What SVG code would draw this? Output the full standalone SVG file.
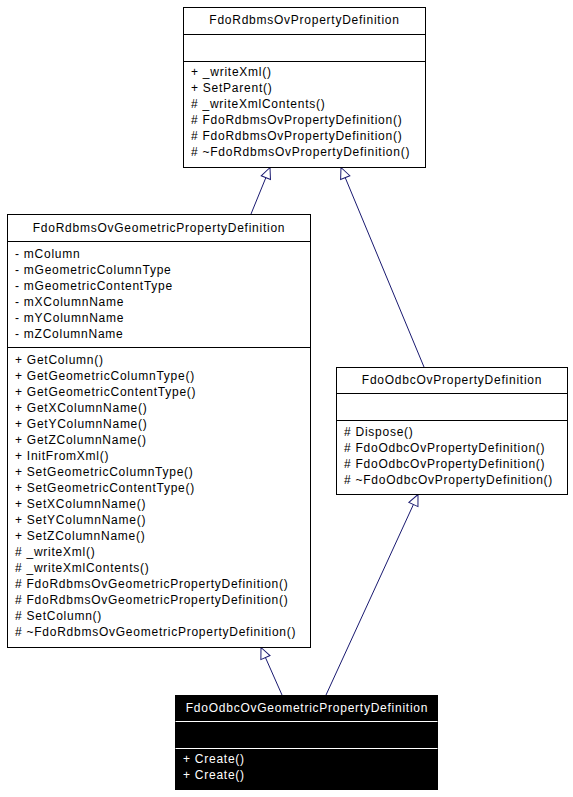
<svg xmlns="http://www.w3.org/2000/svg" width="573" height="797" viewBox="0 0 573 797">
<style>
text{font-family:"Liberation Sans",Arial,sans-serif;font-size:12px;letter-spacing:0.75px;fill:#000}
.t{text-anchor:middle}
.box{fill:#fff;stroke:#000;stroke-width:1}
.sep{stroke:#000;stroke-width:1}
.hl .box{fill:#000}
.hl text{fill:#fff}
.hl .sep{stroke:#fff}
.edge{stroke:#191970;stroke-width:1;fill:none;marker-end:url(#inh)}
</style>
<defs>
<marker id="inh" markerUnits="userSpaceOnUse" markerWidth="14" markerHeight="14" viewBox="-12 -7 14 14" refX="0" refY="0" orient="auto">
<path d="M0,0 L-11,-5 L-11,5 Z" fill="#fff" stroke="#191970" stroke-width="1"/>
</marker>
</defs>
<g id="connectors">
<line class="edge" x1="251" y1="214" x2="270" y2="167.5"/>
<line class="edge" x1="424" y1="367" x2="341" y2="167.5"/>
<line class="edge" x1="282" y1="695" x2="261" y2="647.5"/>
<line class="edge" x1="326" y1="695" x2="418" y2="494.5"/>
</g>
<g id="FdoRdbmsOvPropertyDefinition">
<rect class="box" x="183.5" y="7.5" width="242" height="160"/>
<line class="sep" x1="183.5" y1="34.5" x2="425.5" y2="34.5"/>
<line class="sep" x1="183.5" y1="61.5" x2="425.5" y2="61.5"/>
<text class="t" x="304.5" y="24">FdoRdbmsOvPropertyDefinition</text>
<text x="191" y="76">+ _writeXml()</text>
<text x="191" y="92">+ SetParent()</text>
<text x="191" y="108"># _writeXmlContents()</text>
<text x="191" y="124"># FdoRdbmsOvPropertyDefinition()</text>
<text x="191" y="140"># FdoRdbmsOvPropertyDefinition()</text>
<text x="191" y="156"># ~FdoRdbmsOvPropertyDefinition()</text>
</g>
<g id="FdoRdbmsOvGeometricPropertyDefinition">
<rect class="box" x="7.5" y="214.5" width="303" height="433"/>
<line class="sep" x1="7.5" y1="241.5" x2="310.5" y2="241.5"/>
<line class="sep" x1="7.5" y1="347.5" x2="310.5" y2="347.5"/>
<text class="t" x="159" y="232">FdoRdbmsOvGeometricPropertyDefinition</text>
<text x="15" y="258">- mColumn</text>
<text x="15" y="274">- mGeometricColumnType</text>
<text x="15" y="290">- mGeometricContentType</text>
<text x="15" y="306">- mXColumnName</text>
<text x="15" y="322">- mYColumnName</text>
<text x="15" y="338">- mZColumnName</text>
<text x="15" y="364">+ GetColumn()</text>
<text x="15" y="380">+ GetGeometricColumnType()</text>
<text x="15" y="396">+ GetGeometricContentType()</text>
<text x="15" y="412">+ GetXColumnName()</text>
<text x="15" y="428">+ GetYColumnName()</text>
<text x="15" y="444">+ GetZColumnName()</text>
<text x="15" y="460">+ InitFromXml()</text>
<text x="15" y="476">+ SetGeometricColumnType()</text>
<text x="15" y="492">+ SetGeometricContentType()</text>
<text x="15" y="508">+ SetXColumnName()</text>
<text x="15" y="524">+ SetYColumnName()</text>
<text x="15" y="540">+ SetZColumnName()</text>
<text x="15" y="556"># _writeXml()</text>
<text x="15" y="572"># _writeXmlContents()</text>
<text x="15" y="588"># FdoRdbmsOvGeometricPropertyDefinition()</text>
<text x="15" y="604"># FdoRdbmsOvGeometricPropertyDefinition()</text>
<text x="15" y="620"># SetColumn()</text>
<text x="15" y="636"># ~FdoRdbmsOvGeometricPropertyDefinition()</text>
</g>
<g id="FdoOdbcOvPropertyDefinition">
<rect class="box" x="336.5" y="367.5" width="231" height="127"/>
<line class="sep" x1="336.5" y1="393.5" x2="567.5" y2="393.5"/>
<line class="sep" x1="336.5" y1="420.5" x2="567.5" y2="420.5"/>
<text class="t" x="452" y="384">FdoOdbcOvPropertyDefinition</text>
<text x="344" y="436"># Dispose()</text>
<text x="344" y="452"># FdoOdbcOvPropertyDefinition()</text>
<text x="344" y="468"># FdoOdbcOvPropertyDefinition()</text>
<text x="344" y="484"># ~FdoOdbcOvPropertyDefinition()</text>
</g>
<g id="FdoOdbcOvGeometricPropertyDefinition" class="hl">
<rect class="box" x="175.5" y="695.5" width="262" height="94"/>
<line class="sep" x1="175.5" y1="721.5" x2="437.5" y2="721.5"/>
<line class="sep" x1="175.5" y1="748.5" x2="437.5" y2="748.5"/>
<text class="t" x="307" y="712">FdoOdbcOvGeometricPropertyDefinition</text>
<text x="183" y="763">+ Create()</text>
<text x="183" y="779">+ Create()</text>
</g>
</svg>
